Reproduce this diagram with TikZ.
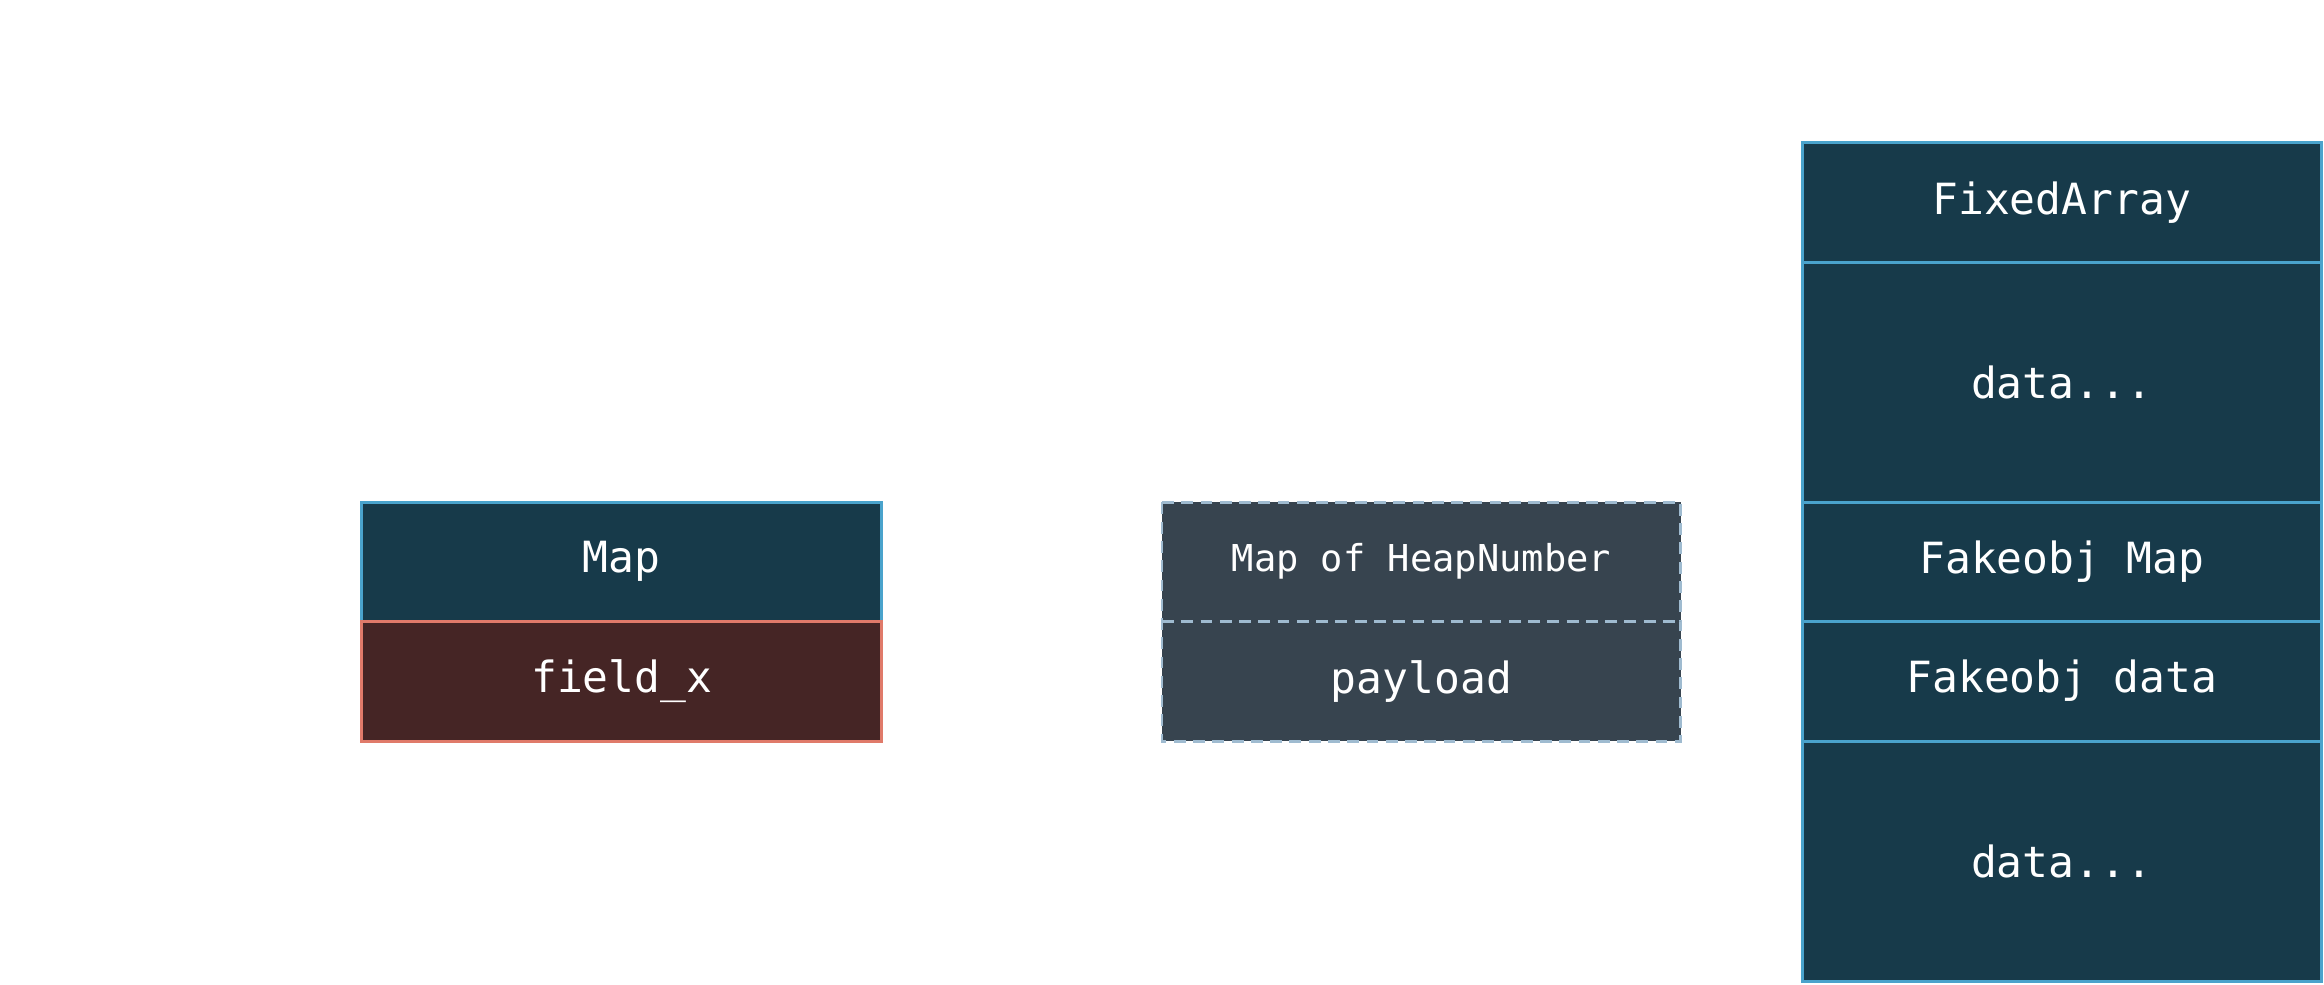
\documentclass[tikz,border=0pt]{standalone}
\usepackage{fontspec}
\setmonofont{DejaVu Sans Mono}
\begin{document}
\begin{tikzpicture}[x=1pt,y=-1pt,
  cell/.style={draw=bluebd,fill=teal1,line width=2pt},
  redcell/.style={draw=redbd,fill=red1,line width=2pt},
  dcell/.style={draw=dashbd,fill=grey1,line width=2pt,dash pattern=on 8pt off 5pt},
  lbl/.style={text=white,font=\ttfamily\fontsize{29}{32}\selectfont},
  slbl/.style={text=white,font=\ttfamily\fontsize{25}{28}\selectfont}]
\definecolor{teal1}{HTML}{173A4A}
\definecolor{bluebd}{HTML}{4AA3CC}
\definecolor{red1}{HTML}{452525}
\definecolor{redbd}{HTML}{E07A6A}
\definecolor{grey1}{HTML}{37444F}
\definecolor{dashbd}{HTML}{9FBBD0}
\useasboundingbox (0,0) rectangle (1568,664);
% left
\draw[cell] (244,339) rectangle (595,419);
\node[lbl] (map) at (419.5,379) {Map};
\draw[redcell] (244,419) rectangle (595,500);
\node[lbl] (fx) at (419.5,459.5) {field\_x};
% middle
\draw[dcell] (784,339) rectangle (1134,500);
\draw[dcell] (784,419) -- (1134,419);
\node[slbl] (mh) at (959,379) {Map of HeapNumber};
\node[lbl] (pl) at (959,459.5) {payload};
% right
\draw[cell] (1216,96) rectangle (1566,177);
\draw[cell] (1216,177) rectangle (1566,339);
\draw[cell] (1216,339) rectangle (1566,419);
\draw[cell] (1216,419) rectangle (1566,500);
\draw[cell] (1216,500) rectangle (1566,662);
\node[lbl] (fa) at (1391,136.5) {FixedArray};
\node[lbl] (d1) at (1391,258) {data...};
\node[lbl] (fm) at (1391,379) {Fakeobj Map};
\node[lbl] (fd) at (1391,459.5) {Fakeobj data};
\node[lbl] (d2) at (1391,581) {data...};
\end{tikzpicture}
\end{document}
